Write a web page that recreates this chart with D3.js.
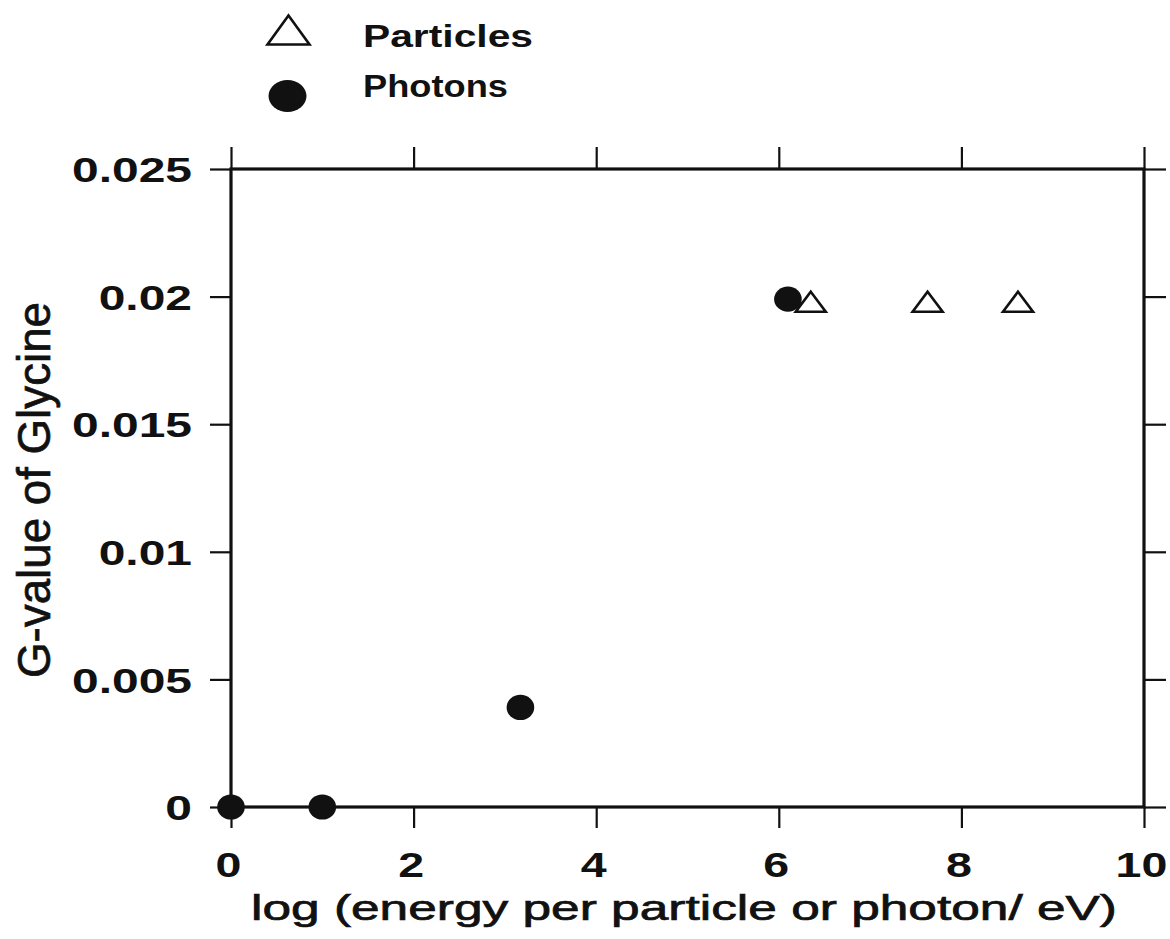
<!DOCTYPE html>
<html><head><meta charset="utf-8">
<script src="https://cdn.jsdelivr.net/npm/d3@7"></script>
<style>
body{margin:0;background:#fff}
svg{display:block;background:#fff}
text{font-family:"Liberation Sans",Arial,Helvetica,sans-serif;fill:#111}
</style>
</head><body>
<svg id="c" width="1170" height="939"></svg>
<script>
// ---- data ----
const xTicks = [0, 2, 4, 6, 8, 10];
const xTickLabels = ["0", "2", "4", "6", "8", "10"];
const yTicks = [0, 0.005, 0.01, 0.015, 0.02, 0.025];
const yTickLabels = ["0", "0.005", "0.01", "0.015", "0.02", "0.025"];
const photonX = [0, 1, 3.17, 6.1];
const photonY = [0, 0, 0.0039, 0.0199];
const particleX = [6.35, 7.63, 8.62];
const particleY = [0.0198, 0.0198, 0.0198];
const seriesNames = ["Particles", "Photons"];
const xTitle = "log (energy per particle or photon/ eV)";
const yTitle = "G-value of Glycine";

// ---- layout ----
const svg = d3.select("#c");
const L = 231, R = 1144, T = 169, B = 807;
const x = d3.scaleLinear().domain([0, 10]).range([L, R]);
const y = d3.scaleLinear().domain([0, 0.025]).range([B, T]);
const ink = "#111";

function stretch(sel, f) {
  sel.each(function () {
    const w = this.getComputedTextLength();
    d3.select(this).attr("textLength", w * f).attr("lengthAdjust", "spacingAndGlyphs");
  });
}

// axes (ticks outward)
const gB = svg.append("g").attr("transform", `translate(0,${B})`)
  .call(d3.axisBottom(x).tickValues(xTicks).tickSize(21).tickFormat((d, i) => xTickLabels[i]));
gB.selectAll("text").attr("y", 70).attr("dy", 0).attr("x", -3);
const gL = svg.append("g").attr("transform", `translate(${L},0)`)
  .call(d3.axisLeft(y).tickValues(yTicks).tickSize(21).tickFormat((d, i) => yTickLabels[i]));
gL.selectAll("text").attr("x", -39).attr("dy", "0.36em");
const gT = svg.append("g").attr("transform", `translate(0,${T})`)
  .call(d3.axisTop(x).tickValues(xTicks).tickSize(22).tickFormat(""));
const gR = svg.append("g").attr("transform", `translate(${R},0)`)
  .call(d3.axisRight(y).tickValues(yTicks).tickSize(22).tickFormat(""));

[gB, gL, gT, gR].forEach(g => {
  g.select(".domain").remove();
  g.attr("font-family", null).attr("font-size", null);
  g.selectAll("line").attr("stroke", ink).attr("stroke-width", 2.2);
  g.selectAll("text").attr("font-size", 35).attr("font-weight", "bold").attr("fill", ink);
});
stretch(gB.selectAll("text"), 1.33);
stretch(gL.selectAll("text"), 1.37);

// frame
svg.append("rect").attr("x", L).attr("y", T).attr("width", R - L).attr("height", B - T)
  .attr("fill", "none").attr("stroke", ink).attr("stroke-width", 3.2);

// axis titles
svg.append("text").attr("x", 251).attr("y", 920).attr("font-size", 35)
  .attr("stroke", ink).attr("stroke-width", 0.7)
  .attr("textLength", 866).attr("lengthAdjust", "spacingAndGlyphs").text(xTitle);
svg.append("text").attr("transform", "translate(50,490) rotate(-90)")
  .attr("text-anchor", "middle").attr("font-size", 46)
  .attr("stroke", ink).attr("stroke-width", 0.7)
  .attr("textLength", 376).attr("lengthAdjust", "spacingAndGlyphs").text(yTitle);

// data marks
const triPath = (w, h) => `M0,${-h / 2}L${w / 2},${h / 2}L${-w / 2},${h / 2}Z`;
svg.append("g").selectAll("path").data(particleX.map((v, i) => [v, particleY[i]])).join("path")
  .attr("transform", d => `translate(${x(d[0])},${y(d[1])})`)
  .attr("d", triPath(30, 20)).attr("fill", "#fff").attr("stroke", ink).attr("stroke-width", 2.6)
  .attr("stroke-linejoin", "miter");
svg.append("g").selectAll("ellipse").data(photonX.map((v, i) => [v, photonY[i]])).join("ellipse")
  .attr("cx", d => x(d[0])).attr("cy", d => y(d[1])).attr("rx", 13.8).attr("ry", 12.6)
  .attr("fill", ink);

// legend
const lg = svg.append("g");
lg.append("path").attr("transform", "translate(288.5,30)").attr("d", triPath(42, 29))
  .attr("fill", "#fff").attr("stroke", ink).attr("stroke-width", 2.6);
lg.append("ellipse").attr("cx", 287.5).attr("cy", 96).attr("rx", 19).attr("ry", 16).attr("fill", ink);
lg.append("text").attr("x", 363).attr("y", 47).attr("font-size", 31).attr("font-weight", "bold")
  .attr("textLength", 170).attr("lengthAdjust", "spacingAndGlyphs").text(seriesNames[0]);
lg.append("text").attr("x", 363).attr("y", 97).attr("font-size", 31).attr("font-weight", "bold")
  .attr("textLength", 145).attr("lengthAdjust", "spacingAndGlyphs").text(seriesNames[1]);
</script>
</body></html>
